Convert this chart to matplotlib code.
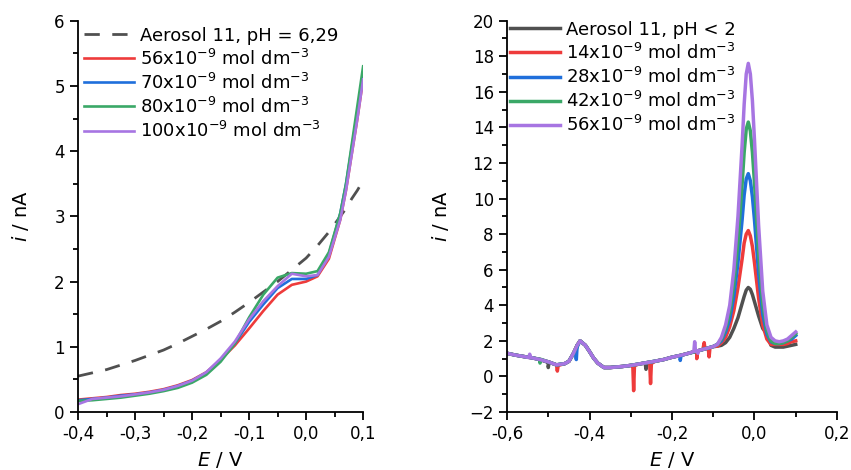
import numpy as np
import matplotlib
matplotlib.use('Agg')
import matplotlib.pyplot as plt
from matplotlib.ticker import MultipleLocator, FuncFormatter

plt.rcParams['font.family'] = 'DejaVu Sans'
plt.rcParams['mathtext.fontset'] = 'dejavusans'

# ---------- left panel data (pH = 6,29) ----------
E_left = [-0.40, -0.375, -0.35, -0.325, -0.30, -0.275, -0.25, -0.225, -0.20, -0.175,
          -0.15, -0.125, -0.10, -0.075, -0.05, -0.025, 0.0, 0.02, 0.04, 0.06,
          0.07, 0.08, 0.09, 0.10]
aerosol_left = [0.55, 0.60, 0.65, 0.72, 0.79, 0.87, 0.95, 1.05, 1.16, 1.27,
                1.39, 1.53, 1.68, 1.84, 2.00, 2.18, 2.36, 2.55, 2.76, 3.00,
                3.12, 3.27, 3.40, 3.55]
c56 = [0.19, 0.21, 0.23, 0.26, 0.28, 0.31, 0.35, 0.41, 0.49, 0.61,
       0.80, 1.02, 1.28, 1.55, 1.80, 1.95, 2.00, 2.08, 2.35, 2.95,
       3.40, 3.95, 4.50, 5.10]
c70 = [0.18, 0.20, 0.22, 0.25, 0.27, 0.30, 0.34, 0.40, 0.48, 0.60,
       0.80, 1.05, 1.38, 1.65, 1.90, 2.04, 2.04, 2.10, 2.42, 3.05,
       3.50, 4.05, 4.60, 5.15]
c80 = [0.17, 0.18, 0.20, 0.22, 0.25, 0.28, 0.32, 0.37, 0.45, 0.57,
       0.77, 1.05, 1.45, 1.80, 2.06, 2.13, 2.12, 2.16, 2.45, 3.05,
       3.50, 4.10, 4.70, 5.30]
c100 = [0.12, 0.20, 0.22, 0.24, 0.27, 0.30, 0.34, 0.40, 0.48, 0.61,
        0.82, 1.08, 1.42, 1.70, 1.93, 2.12, 2.08, 2.10, 2.38, 2.95,
        3.40, 3.95, 4.50, 5.10]
labels_left = ['Aerosol 11, pH = 6,29',
               '56x10$^{-9}$ mol dm$^{-3}$',
               '70x10$^{-9}$ mol dm$^{-3}$',
               '80x10$^{-9}$ mol dm$^{-3}$',
               '100x10$^{-9}$ mol dm$^{-3}$']

# ---------- right panel data (pH < 2) ----------
E_base = [-0.60, -0.58, -0.56, -0.54, -0.52, -0.50, -0.48, -0.46, -0.45, -0.44,
          -0.43, -0.423, -0.41, -0.40, -0.39, -0.38, -0.365, -0.35, -0.32, -0.30,
          -0.28, -0.26, -0.24, -0.22, -0.20, -0.18, -0.16, -0.14, -0.12, -0.10]
i_base = [1.30, 1.20, 1.12, 1.05, 0.95, 0.82, 0.65, 0.72, 0.85, 1.25,
          1.75, 2.00, 1.75, 1.40, 1.03, 0.75, 0.50, 0.50, 0.56, 0.62,
          0.70, 0.78, 0.86, 0.95, 1.08, 1.18, 1.30, 1.42, 1.55, 1.68]

E_peak = [-0.09, -0.08, -0.07, -0.06, -0.05, -0.04, -0.03, -0.025, -0.02, -0.015,
          -0.01, -0.005, 0.0, 0.01, 0.02, 0.03, 0.04, 0.05, 0.06, 0.07,
          0.08, 0.09, 0.10]
p_aer = [1.70, 1.75, 1.90, 2.20, 2.70, 3.30, 4.10, 4.50, 4.85, 5.00,
         4.90, 4.60, 4.20, 3.40, 2.70, 2.40, 1.75, 1.65, 1.65, 1.65,
         1.70, 1.75, 1.80]
p14 = [1.70, 1.90, 2.20, 2.80, 3.70, 5.00, 6.60, 7.50, 8.00, 8.20,
       7.90, 7.30, 6.40, 4.40, 2.90, 2.10, 1.80, 1.80, 1.80, 1.80,
       1.85, 1.95, 2.00]
p28 = [1.80, 2.00, 2.50, 3.20, 4.50, 6.40, 8.80, 10.2, 11.1, 11.4,
       11.0, 10.1, 8.80, 5.80, 3.50, 2.40, 1.95, 1.85, 1.85, 1.90,
       2.00, 2.10, 2.30]
p42 = [1.80, 2.10, 2.70, 3.60, 5.20, 7.60, 10.8, 12.6, 13.9, 14.3,
       13.8, 12.6, 10.9, 7.00, 4.10, 2.60, 2.00, 1.85, 1.85, 1.90,
       2.00, 2.20, 2.40]
p56 = [1.80, 2.20, 2.90, 4.00, 6.00, 9.00, 13.0, 15.3, 17.0, 17.6,
       17.0, 15.5, 13.3, 8.50, 4.80, 2.90, 2.20, 2.00, 1.95, 2.00,
       2.10, 2.30, 2.50]

# narrow glitches in the baseline, (E, i) per series
sp_aer_E = [-0.502, -0.500, -0.498, -0.265, -0.263, -0.261]
sp_aer_i = [0.80, 0.50, 0.80, 0.75, 0.40, 0.75]
sp14_E = [-0.480, -0.478, -0.476, -0.295, -0.293, -0.291, -0.254, -0.252, -0.250,
          -0.142, -0.140, -0.138, -0.125, -0.122, -0.119, -0.112, -0.110, -0.108]
sp14_i = [0.65, 0.30, 0.62, 0.61, -0.80, 0.61, 0.73, -0.40, 0.73,
          1.42, 1.00, 1.44, 1.52, 1.90, 1.55, 1.58, 1.10, 1.60]
sp28_E = [-0.434, -0.432, -0.430, -0.182, -0.180, -0.178]
sp28_i = [1.50, 0.95, 1.65, 1.17, 0.90, 1.18]
sp42_E = [-0.522, -0.520, -0.518]
sp42_i = [0.97, 0.75, 0.96]
sp56_E = [-0.547, -0.545, -0.543, -0.147, -0.145, -0.143, -0.139, -0.137, -0.135]
sp56_i = [1.06, 1.25, 1.05, 1.40, 1.95, 1.42, 1.44, 1.30, 1.46]

labels_right = ['Aerosol 11, pH < 2',
                '14x10$^{-9}$ mol dm$^{-3}$',
                '28x10$^{-9}$ mol dm$^{-3}$',
                '42x10$^{-9}$ mol dm$^{-3}$',
                '56x10$^{-9}$ mol dm$^{-3}$']

gray = '#505050'
red = '#EE3B3B'
blue = '#1F6FDB'
green = '#3AA867'
purple = '#A775E2'


def comma1(x, pos):
    return '{:.1f}'.format(x).replace('.', ',').replace('-0,0', '0,0')


def style_axes(ax):
    for s in ['top', 'right']:
        ax.spines[s].set_visible(False)
    for s in ['left', 'bottom']:
        ax.spines[s].set_linewidth(1.3)
    ax.tick_params(which='major', direction='out', length=6, width=1.3, labelsize=12)
    ax.tick_params(which='minor', direction='out', length=3.5, width=1.3)


def merge(E1, i1, E2, i2, E3, i3):
    E = np.array(E1 + E2 + E3)
    i = np.array(i1 + i2 + i3)
    order = np.argsort(E, kind='stable')
    return E[order], i[order]


fig = plt.figure(figsize=(8.51, 4.70), dpi=100)
ax1 = fig.add_axes([0.0917, 0.1234, 0.335, 0.8326])
ax2 = fig.add_axes([0.5958, 0.1234, 0.3877, 0.8326])

# left
ax1.plot(E_left, aerosol_left, color=gray, lw=2.0, dashes=(5.5, 4.5), label=labels_left[0])
ax1.plot(E_left, c56, color=red, lw=1.9, label=labels_left[1])
ax1.plot(E_left, c70, color=blue, lw=1.9, label=labels_left[2])
ax1.plot(E_left, c80, color=green, lw=1.9, label=labels_left[3])
ax1.plot(E_left, c100, color=purple, lw=1.9, label=labels_left[4])
ax1.set_xlim(-0.4, 0.1)
ax1.set_ylim(0, 6)
ax1.xaxis.set_major_locator(MultipleLocator(0.1))
ax1.xaxis.set_minor_locator(MultipleLocator(0.05))
ax1.yaxis.set_major_locator(MultipleLocator(1))
ax1.yaxis.set_minor_locator(MultipleLocator(0.5))
ax1.xaxis.set_major_formatter(FuncFormatter(comma1))
style_axes(ax1)
ax1.set_xlabel('$E$ / V', fontsize=14, labelpad=5)
ax1.set_ylabel('$i$ / nA', fontsize=14, labelpad=17)
ax1.legend(loc='upper left', bbox_to_anchor=(0.02, 0.985), frameon=False, fontsize=13,
           handlelength=2.8, handletextpad=0.3, labelspacing=0.22, borderpad=0, borderaxespad=0)

# right
series = [(sp_aer_E, sp_aer_i, p_aer, gray), (sp14_E, sp14_i, p14, red),
          (sp28_E, sp28_i, p28, blue), (sp42_E, sp42_i, p42, green),
          (sp56_E, sp56_i, p56, purple)]
for k, (sE, si, pk, col) in enumerate(series):
    E, i = merge(E_base, i_base, sE, si, E_peak, pk)
    ax2.plot(E, i, color=col, lw=2.5, label=labels_right[k], solid_joinstyle='round')
ax2.set_xlim(-0.6, 0.2)
ax2.set_ylim(-2, 20)
ax2.xaxis.set_major_locator(MultipleLocator(0.2))
ax2.xaxis.set_minor_locator(MultipleLocator(0.1))
ax2.yaxis.set_major_locator(MultipleLocator(2))
ax2.yaxis.set_minor_locator(MultipleLocator(1))
ax2.xaxis.set_major_formatter(FuncFormatter(comma1))
style_axes(ax2)
ax2.set_xlabel('$E$ / V', fontsize=14, labelpad=5)
ax2.set_ylabel('$i$ / nA', fontsize=14, labelpad=13)
ax2.legend(loc='upper left', bbox_to_anchor=(0.008, 1.0), frameon=False, fontsize=13,
           handlelength=2.8, handletextpad=0.3, labelspacing=0.22, borderpad=0, borderaxespad=0)

fig.savefig('out.png', dpi=100)
